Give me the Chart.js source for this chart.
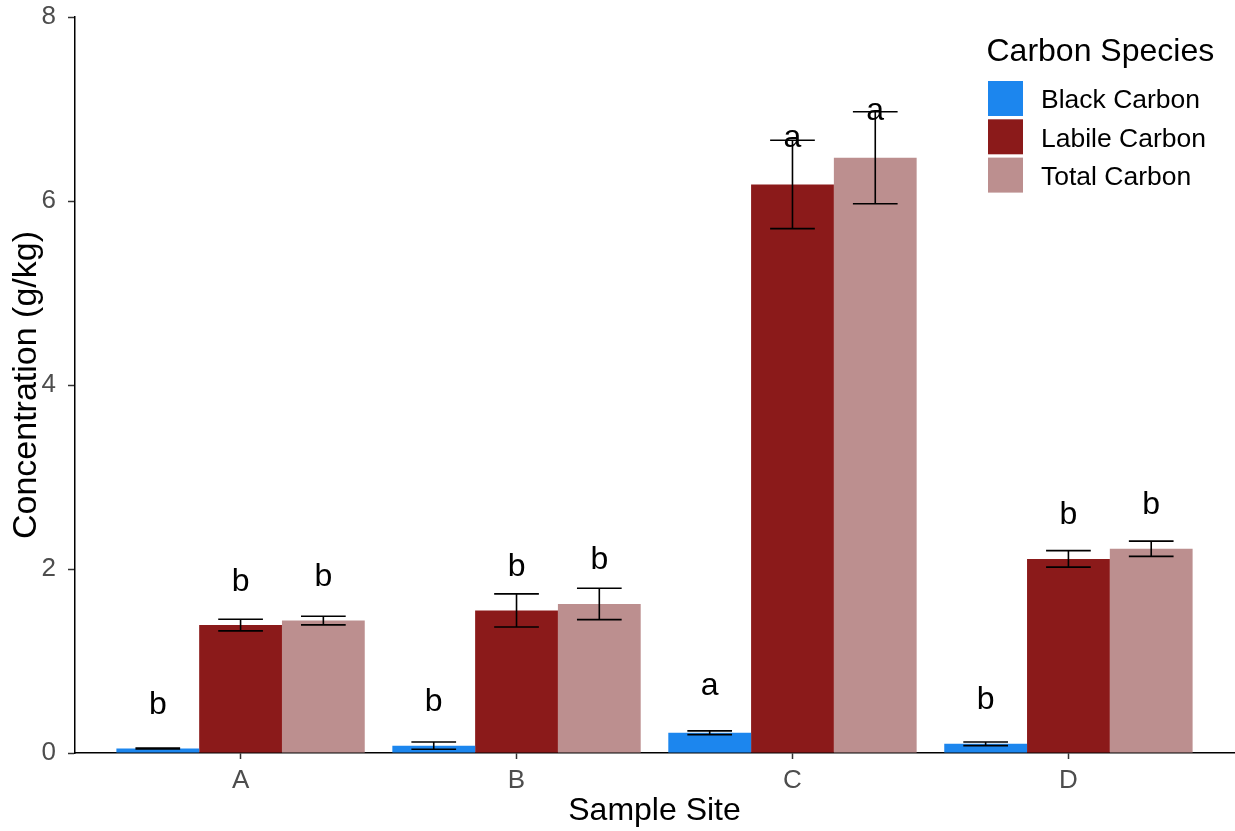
<!DOCTYPE html>
<html><head><meta charset="utf-8">
<script src="https://cdn.jsdelivr.net/npm/chart.js@4/dist/chart.umd.min.js"></script>
<style>html,body{margin:0;padding:0;background:#fff;}</style>
</head><body>
<canvas id="c" width="1235" height="831"></canvas>
<script>
const categories = ['A', 'B', 'C', 'D'];
const seriesNames = ['Black Carbon', 'Labile Carbon', 'Total Carbon'];
const blackCarbon = [0.05, 0.08, 0.22, 0.10];
const labileCarbon = [1.39, 1.55, 6.18, 2.11];
const totalCarbon = [1.44, 1.62, 6.47, 2.22];
const blackErr = [0.005, 0.04, 0.02, 0.02];
const labileErr = [0.063, 0.18, 0.48, 0.09];
const totalErr = [0.047, 0.17, 0.50, 0.083];
const blackLetters = ['b', 'b', 'a', 'b'];
const labileLetters = ['b', 'b', 'a', 'b'];
const totalLetters = ['b', 'b', 'a', 'b'];
const yTicks = [0, 2, 4, 6, 8];

const FONT = "'Liberation Sans', Arial, sans-serif";
const colors = ['#1C86EE', '#8B1A1A', '#BC8F8F'];
const seriesValues = [blackCarbon, labileCarbon, totalCarbon];
const seriesErrs = [blackErr, labileErr, totalErr];
const seriesLetters = [blackLetters, labileLetters, totalLetters];

const datasets = seriesNames.map((name, s) => ({
  label: name,
  data: seriesValues[s].map((v, i) => ({ x: i + 1, y: v })),
  values: seriesValues[s],
  errors: seriesErrs[s],
  letters: seriesLetters[s],
  backgroundColor: colors[s],
  borderWidth: 0
}));

const annotPlugin = {
  id: 'annot',
  afterDatasetsDraw(chart) {
    const ctx = chart.ctx;
    const ys = chart.scales.y;
    ctx.save();
    chart.data.datasets.forEach((ds, di) => {
      const meta = chart.getDatasetMeta(di);
      meta.data.forEach((bar, i) => {
        const v = ds.values[i], e = ds.errors[i];
        const x = bar.x, hw = bar.width * 0.27;
        const yt = ys.getPixelForValue(v + e), yb = ys.getPixelForValue(v - e);
        ctx.strokeStyle = '#000';
        ctx.lineWidth = 1.6;
        ctx.beginPath();
        ctx.moveTo(x - hw, yt); ctx.lineTo(x + hw, yt);
        ctx.moveTo(x - hw, yb); ctx.lineTo(x + hw, yb);
        ctx.moveTo(x, yt); ctx.lineTo(x, yb);
        ctx.stroke();
      });
    });
    ctx.font = '32px ' + FONT;
    ctx.fillStyle = '#000';
    ctx.textAlign = 'center';
    ctx.textBaseline = 'alphabetic';
    chart.data.datasets.forEach((ds, di) => {
      const meta = chart.getDatasetMeta(di);
      meta.data.forEach((bar, i) => {
        const t = ds.letters[i];
        const m = ctx.measureText(t);
        const yc = ys.getPixelForValue(ds.values[i] + 0.5);
        const base = yc + (m.actualBoundingBoxAscent - m.actualBoundingBoxDescent) / 2;
        ctx.fillText(t, bar.x, base);
      });
    });
    ctx.restore();
  },
  afterDraw(chart) {
    const ctx = chart.ctx;
    ctx.save();
    ctx.fillStyle = '#000';
    ctx.textAlign = 'left';
    ctx.textBaseline = 'alphabetic';
    ctx.font = '32px ' + FONT;
    ctx.fillText('Carbon Species', 986.5, 61);
    ctx.font = '26.5px ' + FONT;
    chart.data.datasets.forEach((ds, i) => {
      const y0 = 81 + i * 38.3;
      ctx.fillStyle = ds.backgroundColor;
      ctx.fillRect(988, y0, 35, 35);
      ctx.fillStyle = '#000';
      ctx.textBaseline = 'middle';
      ctx.fillText(ds.label, 1041, y0 + 20);
    });
    ctx.restore();
  }
};

new Chart(document.getElementById('c'), {
  type: 'bar',
  data: { datasets },
  plugins: [annotPlugin],
  options: {
    responsive: false,
    animation: false,
    layout: { padding: { top: 17, right: 1, left: 0, bottom: 0 } },
    plugins: { legend: { display: false }, tooltip: { enabled: false } },
    datasets: { bar: { categoryPercentage: 0.9, barPercentage: 1, grouped: true } },
    scales: {
      x: {
        type: 'linear', min: 0.4, max: 4.6, offset: false, z: 1,
        afterBuildTicks: s => { s.ticks = categories.map((c, i) => ({ value: i + 1 })); },
        afterFit: s => { s.height = 78; s.paddingLeft = 0; s.paddingRight = 0; },
        ticks: {
          callback: v => categories[Math.round(v) - 1] || '',
          font: { family: FONT, size: 26 }, color: '#4D4D4D', padding: 6,
          maxRotation: 0, autoSkip: false
        },
        grid: { offset: false, drawOnChartArea: false, drawTicks: true, tickLength: 6, tickColor: '#333', tickWidth: 1.5 },
        border: { display: true, color: '#000', width: 1.5 },
        title: { display: true, text: 'Sample Site', color: '#000', font: { family: FONT, size: 32 }, padding: { top: 0, bottom: 1 } }
      },
      y: {
        min: 0, max: 8, z: 1,
        afterBuildTicks: s => { s.ticks = yTicks.map(v => ({ value: v })); },
        afterFit: s => { s.width = 75; s.paddingTop = 0; s.paddingBottom = 0; },
        ticks: { font: { family: FONT, size: 26 }, color: '#4D4D4D', padding: 12 },
        grid: { drawOnChartArea: false, drawTicks: true, tickLength: 7, tickColor: '#333', tickWidth: 1.5 },
        border: { display: true, color: '#000', width: 1.5 },
        title: { display: true, text: 'Concentration (g/kg)', color: '#000', font: { family: FONT, size: 34 }, padding: { top: 6, bottom: 0 } }
      }
    }
  }
});
</script>
</body></html>
